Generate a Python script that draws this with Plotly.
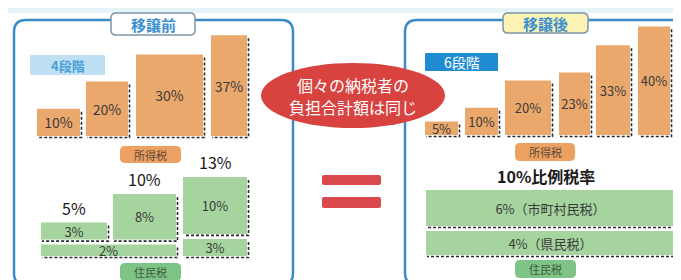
import plotly.graph_objects as go

# ---------------- data ----------------
income_before_rates = [10, 20, 30, 37]          # 所得税 移譲前 (4段階)
income_after_rates = [5, 10, 20, 23, 33, 40]    # 所得税 移譲後 (6段階)
res_before_municipal = [3, 8, 10]               # 住民税 移譲前 (市町村民税)
res_before_prefectural = [2, 2, 3]              # 住民税 移譲前 (県民税)
res_after_municipal = 6                         # 住民税 移譲後 市町村民税
res_after_prefectural = 4                       # 住民税 移譲後 県民税
res_after_names = ["市町村民税", "県民税"]
panel_titles = ["移譲前", "移譲後"]
step_labels = ["4段階", "6段階"]
income_label = "所得税"
resident_label = "住民税"
center_message = ["個々の納税者の", "負担合計額は同じ"]

# ---------------- layout (pixels) ----------------
W, H = 681, 280
FONT = "Noto Sans CJK JP"
ORANGE = "#EBA86C"
GREEN = "#A5D49E"
TXT = "#3a3a3a"
SHADOW = "#2b2b2b"

inc_before_edges = [(29, 72), (78, 120), (128, 195), (203, 239)]
inc_after_edges = [(417, 450), (457, 490), (497, 543), (551, 582), (588, 622), (630, 662)]
res_before_cols = [(33, 99), (105, 168), (175, 239)]
res_after_span = (418, 667)

INC_SCALE = 2.72
RB_SCALE = 5.7
RA_SCALE = 6.0
GAP_PX = 5


def y_domain(base_px, scale, lo, hi):
    bottom_px = base_px - lo * scale
    top_px = base_px - hi * scale
    return [(H - bottom_px) / H, (H - top_px) / H]


fig = go.Figure()


def shadow_trace(bars, scale, yaxis):
    xs, ys = [], []
    for x0, x1, b, t in bars:
        xs += [x1 + 1.5, x1 + 1.5, x0 + 1, None]
        ys += [t - 3 / scale, b - 1.5 / scale, b - 1.5 / scale, None]
    fig.add_trace(go.Scatter(x=xs, y=ys, mode="lines", xaxis="x", yaxis=yaxis,
                             line=dict(color=SHADOW, width=1.6, dash="3px,2px"),
                             hoverinfo="skip", showlegend=False))


def bar_trace(edges, values, bases, texts, color, yaxis, size=13):
    fig.add_trace(go.Bar(
        x=[(a + b) / 2 for a, b in edges], y=values, base=bases,
        width=[b - a for a, b in edges], xaxis="x", yaxis=yaxis,
        marker=dict(color=color, line=dict(width=0)),
        text=texts, textposition="inside", insidetextanchor="middle",
        textangle=0, constraintext="none",
        insidetextfont=dict(family=FONT, size=size, color=TXT),
        hoverinfo="skip", showlegend=False))


# income tax before (y)
shadow_trace([(a, b, 0, v) for (a, b), v in zip(inc_before_edges, income_before_rates)], INC_SCALE, "y")
bar_trace(inc_before_edges, income_before_rates, [0] * 4,
          [f"{v}%" for v in income_before_rates], ORANGE, "y", 14)

# income tax after (y2)
shadow_trace([(a, b, 0, v) for (a, b), v in zip(inc_after_edges, income_after_rates)], INC_SCALE, "y2")
bar_trace(inc_after_edges, income_after_rates, [0] * 6,
          [f"{v}%" for v in income_after_rates], ORANGE, "y2", 13)

# resident tax before (y3): merge adjacent equal prefectural values into one bar
lower_edges, lower_vals = [], []
i = 0
while i < len(res_before_prefectural):
    j = i
    while j + 1 < len(res_before_prefectural) and res_before_prefectural[j + 1] == res_before_prefectural[i]:
        j += 1
    lower_edges.append((res_before_cols[i][0], res_before_cols[j][1]))
    lower_vals.append(res_before_prefectural[i])
    i = j + 1
gap_b = GAP_PX / RB_SCALE
upper_bases = [p + gap_b for p in res_before_prefectural]
shadow_trace([(a, b, 0, v) for (a, b), v in zip(lower_edges, lower_vals)], RB_SCALE, "y3")
shadow_trace([(a, b, base, base + v) for (a, b), v, base in
              zip(res_before_cols, res_before_municipal, upper_bases)], RB_SCALE, "y3")
bar_trace(lower_edges, lower_vals, [0] * len(lower_vals),
          [f"{v}%" for v in lower_vals], GREEN, "y3", 13)
bar_trace(res_before_cols, res_before_municipal, upper_bases,
          [f"{v}%" for v in res_before_municipal], GREEN, "y3", 13)

# resident tax after (y4)
gap_a = GAP_PX / RA_SCALE
ra_edges = [res_after_span, res_after_span]
ra_vals = [res_after_prefectural, res_after_municipal]
ra_bases = [0, res_after_prefectural + gap_a]
shadow_trace([(a, b, base, base + v) for (a, b), v, base in zip(ra_edges, ra_vals, ra_bases)], RA_SCALE, "y4")
bar_trace(ra_edges, ra_vals, ra_bases,
          [f"{res_after_prefectural}%（{res_after_names[1]}）",
           f"{res_after_municipal}%（{res_after_names[0]}）"], GREEN, "y4", 13)

annotations = []
# totals above resident tax before columns
for (a, b), m, p, base in zip(res_before_cols, res_before_municipal, res_before_prefectural, upper_bases):
    annotations.append(dict(x=(a + b) / 2, y=base + m, xref="x", yref="y3",
                            text=f"{m + p}%", showarrow=False, yanchor="bottom",
                            yshift=1, font=dict(family=FONT, size=16, color="#1a1a1a")))
annotations.append(dict(x=(res_after_span[0] + res_after_span[1]) / 2 - 5,
                        y=ra_bases[1] + ra_vals[1], xref="x", yref="y4",
                        text=f"<b>{res_after_municipal + res_after_prefectural}%比例税率</b>",
                        showarrow=False, yanchor="bottom", yshift=0,
                        font=dict(family=FONT, size=16, color="#1a1a1a")))


# ---------------- decorations ----------------
def rrect(x0, y0, x1, y1, r):
    return (f"M{x0 + r},{y0} L{x1 - r},{y0} Q{x1},{y0} {x1},{y0 + r} "
            f"L{x1},{y1 - r} Q{x1},{y1} {x1 - r},{y1} L{x0 + r},{y1} "
            f"Q{x0},{y1} {x0},{y1 - r} L{x0},{y0 + r} Q{x0},{y0} {x0 + r},{y0} Z")


shapes = []


def add_rr(x0, y0, x1, y1, r, fill, line_color=None, lw=0, layer="below"):
    shapes.append(dict(type="path", path=rrect(x0, y0, x1, y1, r), xref="x", yref="y5",
                       fillcolor=fill, line=dict(color=line_color or fill, width=lw),
                       layer=layer))


def add_text(x, y, text, size, color, bold=False):
    annotations.append(dict(x=x, y=y, xref="x", yref="y5", text=f"<b>{text}</b>" if bold else text,
                            showarrow=False, font=dict(family=FONT, size=size, color=color)))


shapes.append(dict(type="rect", x0=0, x1=W, y0=0, y1=5, xref="x", yref="y5",
                   fillcolor="#e6f4fa", line=dict(width=0), layer="below"))
# panels
add_rr(6, 12, 285, 277, 12, "rgba(0,0,0,0)", "#3a8cc6", 2.5)
add_rr(397, 12, 676, 277, 12, "rgba(0,0,0,0)", "#3a8cc6", 2.5)
# tabs
add_rr(103, 5, 187, 27, 5, "#ffffff", "#7f95a9", 1.5)
add_rr(495, 5, 580, 25, 5, "#fbf2b3", "#7f95a9", 1.5)
add_text(145, 16, panel_titles[0], 15, "#3b8fd0", True)
add_text(537.5, 15, panel_titles[1], 15, "#3b8fd0", True)
# step labels
add_rr(22, 47, 97, 67, 1, "#bfe0f2")
add_text(59.5, 57, step_labels[0], 13, "#4aa0d8", True)
add_rr(417, 45, 490, 63, 1, "#1f8bd0")
add_text(453.5, 54, step_labels[1], 14, "#ffffff")
# category tags
add_rr(112, 138, 173, 155, 5, "#eca062")
add_text(142.5, 146.5, income_label, 11, "#5a4636")
add_rr(507, 135, 567, 153, 5, "#eca062")
add_text(537, 144, income_label, 11, "#5a4636")
add_rr(112, 255, 173, 273, 5, "#7ec487")
add_text(142.5, 264, resident_label, 11, "#3e5a40")
add_rr(507, 252, 568, 270, 5, "#7ec487")
add_text(537.5, 261, resident_label, 11, "#3e5a40")
# equals sign
add_rr(314, 167, 373, 177, 2, "#da4a4c")
add_rr(314, 189, 373, 200, 2, "#da4a4c")
# red ellipse with message
shapes.append(dict(type="circle", x0=253, x1=437, y0=55, y1=120, xref="x", yref="y5",
                   fillcolor="#d8433f", line=dict(width=0), layer="above"))
add_text(345, 77, center_message[0], 16, "#ffffff")
add_text(345, 99, center_message[1], 16, "#ffffff")

hidden = dict(visible=False, fixedrange=True)
fig.update_layout(
    width=W, height=H, autosize=False,
    margin=dict(l=0, r=0, t=0, b=0),
    paper_bgcolor="#ffffff", plot_bgcolor="rgba(0,0,0,0)",
    barmode="overlay", showlegend=False,
    xaxis=dict(range=[0, W], domain=[0, 1], anchor="y", **hidden),
    yaxis=dict(range=[-1.5, 40], domain=y_domain(128, INC_SCALE, -1.5, 40), anchor="x", **hidden),
    yaxis2=dict(range=[-1.5, 40], domain=y_domain(127, INC_SCALE, -1.5, 40), anchor="x", **hidden),
    yaxis3=dict(range=[-0.7, 14], domain=y_domain(248, RB_SCALE, -0.7, 14), anchor="x", **hidden),
    yaxis4=dict(range=[-0.7, 12], domain=y_domain(247, RA_SCALE, -0.7, 12), anchor="x", **hidden),
    yaxis5=dict(range=[H, 0], domain=[0, 1], anchor="x", **hidden),
    shapes=shapes, annotations=annotations,
)

fig.write_html("out.html")
